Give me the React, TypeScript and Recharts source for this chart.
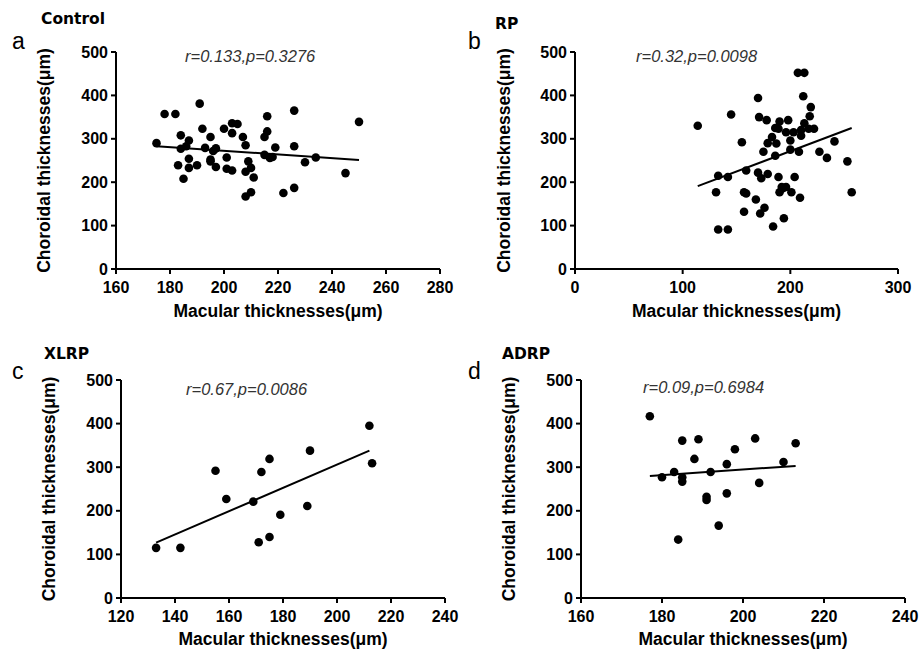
import React from 'react';
import { ScatterChart, Scatter, XAxis, YAxis, ReferenceLine, Label } from 'recharts';

// ---- Data ----
const controlMacular = [175,178,182,191,184,187,184,186,183,187,187,185,190,192,193,195,195,196,197,195,197,200,201,201,203,203,205,203,207,208,209,208,210,211,208,210,215,216,216,215,217,218,219,222,226,226,226,230,234,245,250];
const controlChoroidal = [290,357,357,381,308,296,277,283,239,254,233,208,239,323,279,304,252,272,278,248,235,323,257,231,227,336,334,313,304,285,248,224,233,211,167,177,304,317,352,263,256,258,280,175,365,283,187,246,257,221,339];

const rpMacular = [114,133,142,131,133,142,145,155,159,157,159,157,170,171,178,175,170,173,179,168,176,172,184,179,183,186,190,189,187,186,189,190,192,196,201,194,196,198,200,200,203,204,209,208,207,213,212,210,210,213,219,218,217,222,227,234,241,253,257,193];
const rpChoroidal = [330,215,212,177,91,91,356,292,227,177,174,132,394,350,343,270,222,209,219,160,141,128,98,290,304,325,340,323,289,261,212,177,189,189,177,117,315,343,296,275,315,212,164,270,452,452,398,307,320,336,373,352,323,323,270,256,294,248,177,186];

const xlrpMacular = [133,142,155,159,169,172,175,171,175,179,189,190,212,213];
const xlrpChoroidal = [115,115,292,227,221,289,319,128,140,191,211,338,395,309];

const adrpMacular = [177,180,183,185,185,185,184,188,189,191,191,192,194,196,196,198,203,204,210,213];
const adrpChoroidal = [417,277,289,277,267,361,134,319,364,232,225,289,166,240,307,341,366,264,312,355];

// regression line endpoints [x1, y1, x2, y2]
const controlFit = [175, 283, 250, 251];
const rpFit = [114, 191, 257, 325];
const xlrpFit = [133, 127, 212, 338];
const adrpFit = [177, 280, 213, 303];

const yTicks = [0, 100, 200, 300, 400, 500];
const controlXTicks = [160, 180, 200, 220, 240, 260, 280];
const rpXTicks = [0, 100, 200, 300];
const xlrpXTicks = [120, 140, 160, 180, 200, 220, 240];
const adrpXTicks = [160, 180, 200, 220, 240];

const panelLetters = ['a', 'b', 'c', 'd'];
const panelTitles = ['Control', 'RP', 'XLRP', 'ADRP'];
const panelStats = ['r=0.133,p=0.3276', 'r=0.32,p=0.0098', 'r=0.67,p=0.0086', 'r=0.09,p=0.6984'];

const xLabel = 'Macular thicknesses(\u03BCm)';
const yLabel = 'Choroidal thicknesses(\u03BCm)';

const FONT = '"Liberation Sans", Arial, Helvetica, sans-serif';

const toPoints = (xs: number[], ys: number[]) => xs.map((x, i) => ({ x, y: ys[i] }));

const Dot = (props: any) => <circle cx={props.cx} cy={props.cy} r={4.3} fill="#000" />;

type PanelProps = {
  left: number; top: number; width: number; height: number;
  margin: { top: number; right: number; bottom: number; left: number };
  yAxisWidth: number; yLabelOffset: number; xLabelOffset: number;
  xTicks: number[]; data: { x: number; y: number }[]; fit: number[];
};

const tickStyle = { fill: '#000', fontSize: 16, fontWeight: 'bold' as const, fontFamily: FONT };
const axisStroke = { stroke: '#000', strokeWidth: 2 };

function Panel(p: PanelProps) {
  return (
    <div style={{ position: 'absolute', left: p.left, top: p.top }}>
      <ScatterChart width={p.width} height={p.height} margin={p.margin}>
        <XAxis
          type="number" dataKey="x" domain={[p.xTicks[0], p.xTicks[p.xTicks.length - 1]]} ticks={p.xTicks}
          height={30} tickSize={5} tickMargin={8} tick={tickStyle} axisLine={axisStroke} tickLine={axisStroke}
          interval={0}
        >
          <Label value={xLabel} position="bottom" offset={p.xLabelOffset}
            style={{ fontSize: 17.5, fontWeight: 'bold', fontFamily: FONT, fill: '#000' }} />
        </XAxis>
        <YAxis
          type="number" dataKey="y" domain={[0, 500]} ticks={yTicks} width={p.yAxisWidth}
          tickSize={5} tickMargin={3} tick={tickStyle} axisLine={axisStroke} tickLine={axisStroke} interval={0}
        >
          <Label value={yLabel} angle={-90} position="insideLeft" offset={p.yLabelOffset}
            style={{ textAnchor: 'middle', fontSize: 17.5, fontWeight: 'bold', fontFamily: FONT, fill: '#000' }} />
        </YAxis>
        <Scatter data={p.data} shape={Dot} isAnimationActive={false} />
        <ReferenceLine
          segment={[{ x: p.fit[0], y: p.fit[1] }, { x: p.fit[2], y: p.fit[3] }]}
          stroke="#000" strokeWidth={2} ifOverflow="visible"
        />
      </ScatterChart>
    </div>
  );
}

const letterPos = [[12, 49], [468, 49], [12, 379], [468, 379]];
const titlePos = [[41, 24], [495, 29], [44, 359], [502, 359]];
const statPos = [[185, 62], [636, 62], [186, 395], [643, 393]];

export default function App() {
  return (
    <div style={{ position: 'absolute', left: 0, top: 0, width: 919, height: 651, background: '#fff', overflow: 'hidden' }}>
      <Panel left={0} top={0} width={460} height={330}
        margin={{ top: 52, right: 20, bottom: 31, left: 0 }} yAxisWidth={116} yLabelOffset={44} xLabelOffset={6}
        xTicks={controlXTicks} data={toPoints(controlMacular, controlChoroidal)} fit={controlFit} />
      <Panel left={460} top={0} width={459} height={330}
        margin={{ top: 52, right: 21, bottom: 31, left: 0 }} yAxisWidth={115} yLabelOffset={44} xLabelOffset={6}
        xTicks={rpXTicks} data={toPoints(rpMacular, rpChoroidal)} fit={rpFit} />
      <Panel left={0} top={330} width={460} height={321}
        margin={{ top: 50, right: 15, bottom: 23, left: 0 }} yAxisWidth={121} yLabelOffset={49} xLabelOffset={5}
        xTicks={xlrpXTicks} data={toPoints(xlrpMacular, xlrpChoroidal)} fit={xlrpFit} />
      <Panel left={460} top={330} width={459} height={321}
        margin={{ top: 50, right: 14, bottom: 23, left: 0 }} yAxisWidth={121} yLabelOffset={49} xLabelOffset={5}
        xTicks={adrpXTicks} data={toPoints(adrpMacular, adrpChoroidal)} fit={adrpFit} />
      <svg width={919} height={651} style={{ position: 'absolute', left: 0, top: 0, pointerEvents: 'none' }}>
        {panelLetters.map((t, i) => (
          <text key={'l' + i} x={letterPos[i][0]} y={letterPos[i][1]} fontSize={23} fontFamily={FONT} fill="#000">{t}</text>
        ))}
        {panelTitles.map((t, i) => (
          <text key={'t' + i} x={titlePos[i][0]} y={titlePos[i][1]} fontSize={15.5} fontWeight="bold"
            fontFamily='"DejaVu Sans", sans-serif' fill="#000">{t}</text>
        ))}
        {panelStats.map((t, i) => (
          <text key={'s' + i} x={statPos[i][0]} y={statPos[i][1]} fontSize={16.5} fontStyle="italic"
            fontFamily={FONT} fill="#333">{t}</text>
        ))}
      </svg>
    </div>
  );
}
